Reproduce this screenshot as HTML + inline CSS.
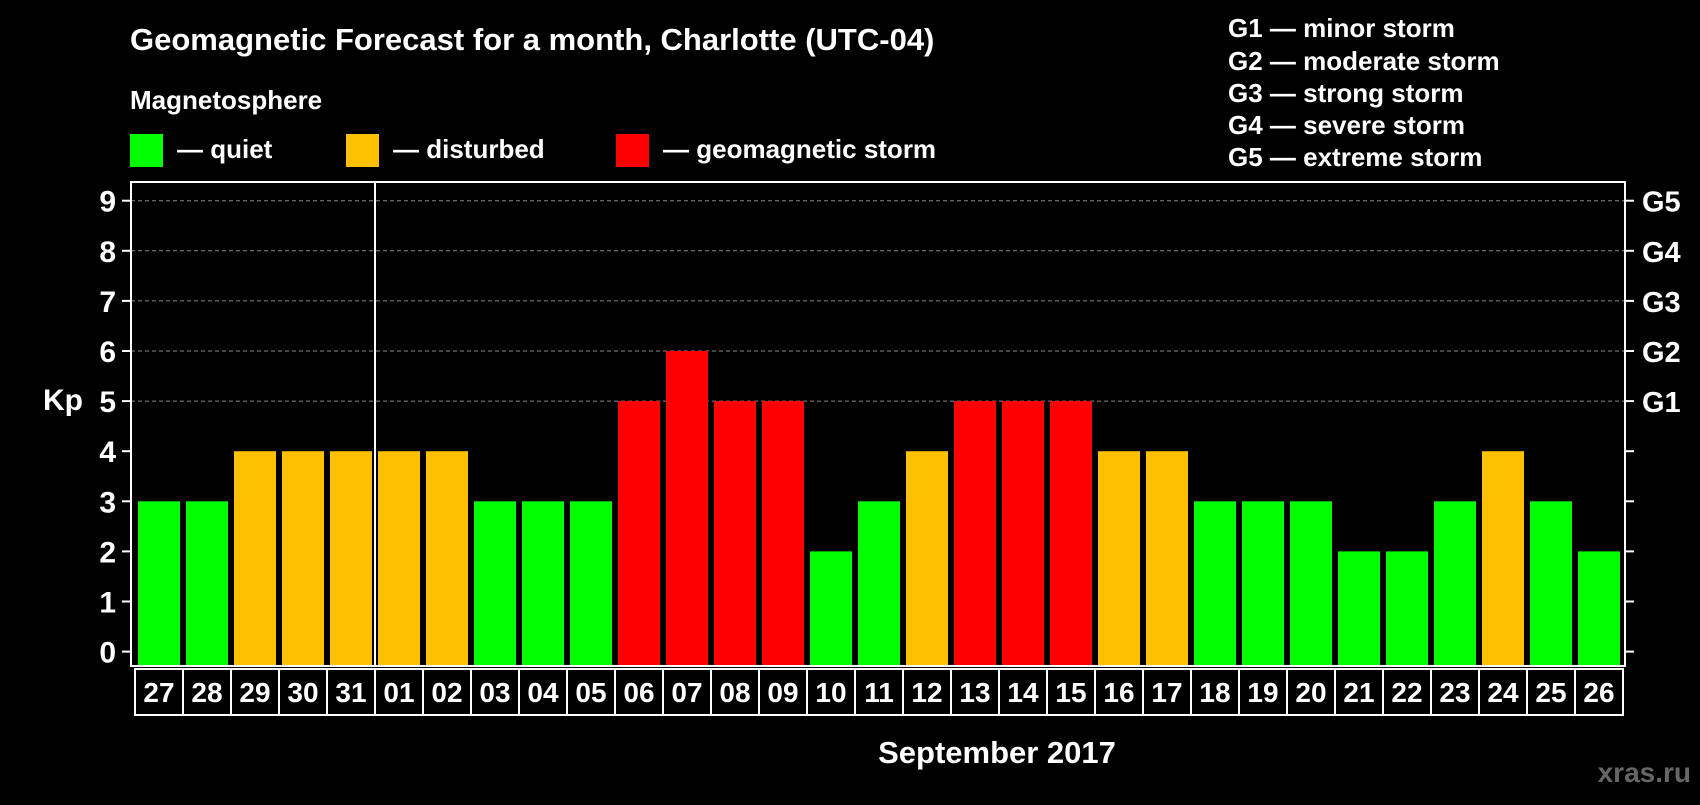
<!DOCTYPE html>
<html><head><meta charset="utf-8"><style>
body{margin:0;background:#000;width:1700px;height:800px;overflow:hidden}
svg text{font-family:"Liberation Sans",Arial,sans-serif;font-weight:bold;fill:#fff}
</style></head><body>
<svg id="chart" width="1700" height="800">
<text x="130" y="50" font-size="31">Geomagnetic Forecast for a month, Charlotte (UTC-04)</text>
<text x="130" y="109" font-size="26">Magnetosphere</text>
<g><rect x="130" y="134" width="33" height="33" fill="#00ff00"/><text x="177" y="158" font-size="26">— quiet</text></g>
<g><rect x="346" y="134" width="33" height="33" fill="#ffc000"/><text x="393" y="158" font-size="26">— disturbed</text></g>
<g><rect x="616" y="134" width="33" height="33" fill="#ff0000"/><text x="663" y="158" font-size="26">— geomagnetic storm</text></g>
<g font-size="26">
<text x="1228" y="37">G1 — minor storm</text>
<text x="1228" y="70">G2 — moderate storm</text>
<text x="1228" y="102">G3 — strong storm</text>
<text x="1228" y="134">G4 — severe storm</text>
<text x="1228" y="166">G5 — extreme storm</text>
</g>
<text x="63" y="410" font-size="30" text-anchor="middle">Kp</text>
<text x="997" y="763" font-size="31" text-anchor="middle">September 2017</text>
<text x="1691" y="782" font-size="28" text-anchor="end" style="fill:#666">xras.ru</text>
<g id="plot"></g>
</svg>
<script>
const days=["27","28","29","30","31","01","02","03","04","05","06","07","08","09","10","11","12","13","14","15","16","17","18","19","20","21","22","23","24","25","26"];
const kp=[3,3,4,4,4,4,4,3,3,3,5,6,5,5,2,3,4,5,5,5,4,4,3,3,3,2,2,3,4,3,2];
const yTicks=[0,1,2,3,4,5,6,7,8,9];
const gLabels=["G1","G2","G3","G4","G5"];
const NS="http://www.w3.org/2000/svg";
const g=document.getElementById('plot');
const L=131,R=1625,T=182,B=666;
const y=v=>651.6-v*50.1;
const x0=i=>135+i*48;
function mk(t,a){const e=document.createElementNS(NS,t);for(const k in a)e.setAttribute(k,a[k]);g.appendChild(e);return e;}
yTicks.forEach(v=>{
  if(v>=5){const l=mk('line',{x1:L,x2:R,y1:y(v),y2:y(v),stroke:'#888','stroke-dasharray':'4,3'});
  
  }
  mk('line',{x1:L-9,x2:L,y1:y(v),y2:y(v),stroke:'#fff','stroke-width':2});
  mk('line',{x1:R,x2:R+9,y1:y(v),y2:y(v),stroke:'#fff','stroke-width':2});
  const t=mk('text',{x:116,y:y(v)+11,'font-size':30,'text-anchor':'end'});t.textContent=v;
  
  
});
gLabels.forEach((s,i)=>{const t=mk('text',{x:1642,y:y(i+5)+11,'font-size':29});t.textContent=s;
  
  });
kp.forEach((v,i)=>{
  const c=v>=5?'#ff0000':v==4?'#ffc000':'#00ff00';
  const r=mk('rect',{x:x0(i)+3,y:y(v),width:42,height:B-y(v),fill:c});
  
  
  const b=mk('rect',{x:x0(i),y:669,width:48,height:46,fill:'none',stroke:'#fff','stroke-width':2});
  
  
  const t=mk('text',{x:x0(i)+24,y:702,'font-size':28,'text-anchor':'middle'});t.textContent=days[i];
  
  
});
const f=mk('rect',{x:L,y:T,width:R-L,height:B-T,fill:'none',stroke:'#fff','stroke-width':2});


const m=mk('line',{x1:x0(5),x2:x0(5),y1:T,y2:B,stroke:'#fff','stroke-width':2});


</script>
</body></html>
